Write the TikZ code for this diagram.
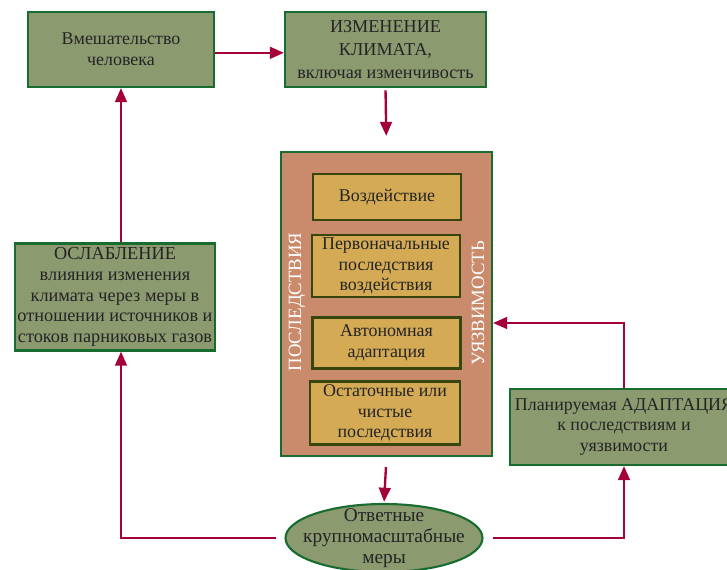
\documentclass[tikz,border=0pt]{standalone}
\usepackage{fontspec}
\setmainfont{Liberation Serif}
\usetikzlibrary{shapes.geometric, arrows.meta, positioning}
\definecolor{boxgreen}{RGB}{140, 154, 112}
\definecolor{edgegreen}{RGB}{24, 108, 48}
\definecolor{linkred}{RGB}{164, 0, 58}
\definecolor{impactbg}{RGB}{201, 139, 107}
\definecolor{stepfill}{RGB}{212, 170, 85}
\definecolor{stepedge}{RGB}{56, 70, 14}
\definecolor{textdark}{RGB}{36, 36, 36}

\begin{document}
\begin{tikzpicture}[x=0.03cm, y=-0.03cm,
  boxtext/.style={text=textdark, align=center, inner sep=0pt, font=\fontsize{15.3}{17.6}\selectfont},
  greenbox/.style={boxtext, draw=edgegreen, line width=1.8pt, fill=boxgreen},
  stepbox/.style={boxtext, draw=stepedge, line width=1.8pt, fill=stepfill, minimum width=4.44cm},
  sidelabel/.style={text=white, rotate=90, inner sep=0pt, font=\fontsize{16}{19}\selectfont},
  link/.style={draw=linkred, line width=2pt, -{Triangle[length=12pt, width=10pt]}}]
  \useasboundingbox (0, 0) rectangle (727, 570);
  \clip (0, 0) rectangle (727, 570);

  % Top row
  \node[greenbox, minimum width=5.58cm, minimum height=2.25cm] (human) at (121, 49.5) {Вмешательство\\человека};
  \node[greenbox, minimum width=6.03cm, minimum height=2.25cm, font=\fontsize{15.5}{19.5}\selectfont] (climate) at (385.5, 49.5) {ИЗМЕНЕНИЕ\\КЛИМАТА,\\включая изменчивость};

  % Impacts and vulnerability
  \node[draw=edgegreen, line width=1.8pt, fill=impactbg, minimum width=6.33cm, minimum height=9.12cm] (impacts) at (386.5, 304) {};
  \node[stepbox, minimum height=1.38cm] (s1) at (387, 197) {Воздействие};
  \node[stepbox, minimum height=1.86cm] (s2) at (386, 266) {Первоначальные\\последствия\\воздействия};
  \node[stepbox, minimum height=1.53cm] (s3) at (386.5, 343) {Автономная\\адаптация};
  \node[stepbox, minimum width=4.5cm, minimum height=1.89cm] (s4) at (385, 413) {Остаточные или\\чистые\\последствия};
  \node[sidelabel] (conseq) at (297, 302) {ПОСЛЕДСТВИЯ};
  \node[sidelabel] (vulner) at (478, 303) {УЯЗВИМОСТЬ};

  % Mitigation and adaptation
  \node[greenbox, minimum width=6cm, minimum height=3.21cm, font=\fontsize{15.6}{17.6}\selectfont] (mitig) at (115, 297) {ОСЛАБЛЕНИЕ\\влияния изменения\\климата через меры в\\отношении источников и\\стоков парниковых газов};
  \node[greenbox, minimum width=6.84cm, minimum height=2.28cm] (plan) at (624, 427) {Планируемая АДАПТАЦИЯ\\к последствиям и\\уязвимости};

  % Responses
  \node[ellipse, greenbox, inner xsep=-0.4cm, inner ysep=-0.2cm, minimum width=5.91cm, minimum height=2.04cm, font=\fontsize{16.5}{17.8}\selectfont] (response) at (384, 538) {Ответные\\крупномасштабные\\меры};

  % Connectors
  \draw[link] ([yshift=-0.1cm]human.east) -- ([yshift=-0.1cm]climate.west);
  \draw[link, shorten <=2pt, shorten >=0.45cm] (climate.south) -- (impacts.north);
  \draw[link, shorten <=0.3cm, shorten >=1pt] (impacts.south) -- (response.north);
  \draw[link, shorten <=0.24cm] (response.west) -| (human.south |- mitig.south);
  \draw[link] (human.south |- mitig.north) -- (human.south);
  \draw[link, shorten <=0.27cm] (response.east) -| (plan.south);
  \draw[link] (plan.north) |- ([yshift=-0.57cm]impacts.east);
\end{tikzpicture}
\end{document}
